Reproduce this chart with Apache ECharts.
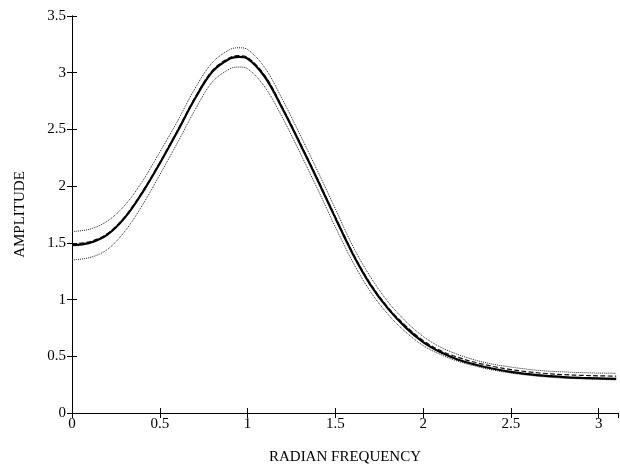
<!DOCTYPE html>
<html>
<head>
<meta charset="utf-8">
<script src="https://cdn.jsdelivr.net/npm/echarts@6/dist/echarts.min.js"></script>
<style>
  html, body { margin: 0; padding: 0; background: #fff; }
  #chart { width: 620px; height: 472px; }
</style>
</head>
<body>
<div id="chart"></div>
<script>
// radian frequency samples
const freqs = [0, 0.1, 0.2, 0.3, 0.4, 0.5, 0.6, 0.7, 0.8, 0.9, 0.95, 1.0, 1.1, 1.2, 1.3, 1.4, 1.5,
  1.6, 1.7, 1.8, 1.9, 2.0, 2.1, 2.2, 2.3, 2.4, 2.5, 2.6, 2.7, 2.8, 2.9, 3.0, 3.1]
// estimated amplitude (thick solid)
const amplitude = [1.48, 1.50, 1.57, 1.72, 1.94, 2.20, 2.48, 2.77, 3.01, 3.125, 3.14, 3.125, 2.96, 2.68, 2.37, 2.05, 1.72,
  1.40, 1.13, 0.92, 0.755, 0.625, 0.535, 0.47, 0.425, 0.39, 0.362, 0.342, 0.327, 0.317, 0.31, 0.305, 0.30]
// true amplitude (dashed, almost on top of the estimate)
const trueAmp = [1.49, 1.51, 1.58, 1.73, 1.95, 2.21, 2.49, 2.78, 3.02, 3.135, 3.15, 3.135, 2.97, 2.69, 2.38, 2.06, 1.73,
  1.41, 1.14, 0.93, 0.77, 0.64, 0.55, 0.49, 0.445, 0.41, 0.383, 0.363, 0.348, 0.338, 0.332, 0.328, 0.325]
// upper / lower confidence bounds (dotted)
const upperBound = [1.60, 1.62, 1.69, 1.83, 2.04, 2.30, 2.57, 2.86, 3.09, 3.205, 3.22, 3.205, 3.04, 2.76, 2.45, 2.13, 1.80,
  1.47, 1.20, 0.98, 0.81, 0.675, 0.58, 0.515, 0.465, 0.43, 0.405, 0.385, 0.37, 0.362, 0.356, 0.352, 0.35]
const lowerBound = [1.35, 1.37, 1.44, 1.60, 1.83, 2.10, 2.38, 2.67, 2.92, 3.035, 3.05, 3.035, 2.87, 2.60, 2.29, 1.97, 1.64,
  1.33, 1.07, 0.87, 0.715, 0.595, 0.515, 0.455, 0.412, 0.378, 0.352, 0.333, 0.318, 0.308, 0.301, 0.296, 0.292]

const pairs = function(ys) {
  return freqs.map(function(f, i) { return [f, ys[i]] })
}

const font = 'Liberation Serif, DejaVu Serif, serif'
const frameAxis = {
  axisLine: { show: true, lineStyle: { color: '#000', width: 1 } },
  axisTick: { show: true, inside: true, length: 5, lineStyle: { color: '#000' } },
  splitLine: { show: false }
}

const chart = echarts.init(document.getElementById('chart'), null, { renderer: 'canvas' })
chart.setOption({
  animation: false,
  backgroundColor: '#fff',
  grid: { left: 72, right: 2, top: 16, bottom: 59, containLabel: false },
  xAxis: [
    Object.assign({
      type: 'value', min: 0, max: 3.11, interval: 0.5, position: 'bottom',
      name: 'RADIAN FREQUENCY', nameLocation: 'middle', nameGap: 37,
      nameTextStyle: { color: '#000', fontFamily: font, fontSize: 15 },
      axisLabel: { color: '#000', fontFamily: font, fontSize: 15, margin: 4, showMaxLabel: false }
    }, frameAxis),
    Object.assign({
      type: 'value', min: 0, max: 3.11, interval: 0.5, position: 'top',
      axisLabel: { show: false }
    }, frameAxis)
  ],
  yAxis: [
    Object.assign({
      type: 'value', min: 0, max: 3.5, interval: 0.5, position: 'left',
      name: 'AMPLITUDE', nameLocation: 'middle', nameGap: 44,
      nameTextStyle: { color: '#000', fontFamily: font, fontSize: 15 },
      axisLabel: { color: '#000', fontFamily: font, fontSize: 15, margin: 6 }
    }, frameAxis),
    Object.assign({
      type: 'value', min: 0, max: 3.5, interval: 0.5, position: 'right',
      axisLabel: { show: false }
    }, frameAxis)
  ],
  series: [
    { name: 'upper', type: 'line', data: pairs(upperBound), smooth: 0.35, showSymbol: false,
      lineStyle: { color: '#222', width: 1, type: 'dotted' } },
    { name: 'lower', type: 'line', data: pairs(lowerBound), smooth: 0.35, showSymbol: false,
      lineStyle: { color: '#222', width: 1, type: 'dotted' } },
    { name: 'true', type: 'line', data: pairs(trueAmp), smooth: 0.35, showSymbol: false,
      lineStyle: { color: '#111', width: 1.2, type: 'dashed' } },
    { name: 'estimate', type: 'line', data: pairs(amplitude), smooth: 0.35, showSymbol: false,
      lineStyle: { color: '#000', width: 2.2 } }
  ]
})
</script>
</body>
</html>
